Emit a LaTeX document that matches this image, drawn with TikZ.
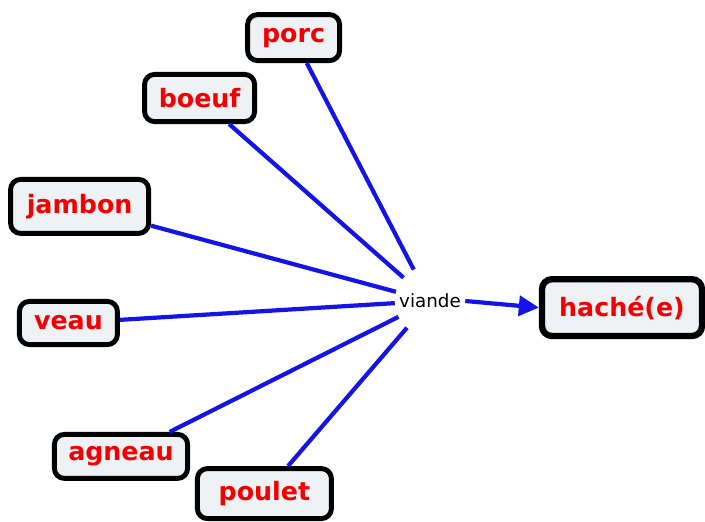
\documentclass[tikz,border=0pt]{standalone}
\usepackage{fontspec}
\setmainfont{DejaVu Sans}
\usepackage{tikz}
\usetikzlibrary{arrows.meta}

\definecolor{motrouge}{RGB}{245,0,0}
\definecolor{lienbleu}{RGB}{20,20,230}
\definecolor{fondmot}{RGB}{238,242,245}

\tikzset{
  mot/.style={draw=black, line width=3.5pt, rounded corners=0.25cm, fill=fondmot,
    text=motrouge, font=\fontsize{18}{20}\selectfont\bfseries, inner sep=0pt},
  lien/.style={draw=lienbleu, line width=3pt}
}

\begin{document}
\begin{tikzpicture}
\useasboundingbox (0,0) rectangle (17.625,13.05);
% centre
\node[circle, minimum size=1.75cm, inner sep=0pt, font=\fontsize{13}{15}\selectfont] (viande) at (10.75,5.525) {viande};
\node[mot, line width=4.5pt, minimum width=4cm, minimum height=1.42cm] (hache) at (15.55,5.36) {haché(e)};
% les mots
	\node[mot, minimum width=2.3cm, minimum height=1.15cm] (porc) at (7.34,12.11) {porc};
	\node[mot, minimum width=2.75cm, minimum height=1.18cm] (boeuf) at (4.99,10.6) {boeuf};
	\node[mot, minimum width=3.45cm, minimum height=1.35cm] (jambon) at (1.99,7.89) {jambon};
	\node[mot, minimum width=2.45cm, minimum height=1.08cm] (veau) at (1.71,4.975) {veau};
	\node[mot, minimum width=3.33cm, minimum height=1.1cm] (agneau) at (3.025,1.64) {agneau};
	\node[mot, minimum width=3.35cm, minimum height=1.25cm] (poulet) at (6.61,0.71) {poulet};

	\draw[lien] (porc) -- (viande);
	\draw[lien] (boeuf) -- (viande);
	\draw[lien] (jambon) -- (viande);
	\draw[lien] (veau) -- (viande);
	\draw[lien] (agneau) -- (viande);
	\draw[lien] (poulet) -- (viande);
	%\draw[lien] (viande) -- (hache);
	\draw[lien, -{Triangle[length=0.5cm,width=0.5cm]}] (viande.east) -- (hache.west);
\end{tikzpicture}
\end{document}
